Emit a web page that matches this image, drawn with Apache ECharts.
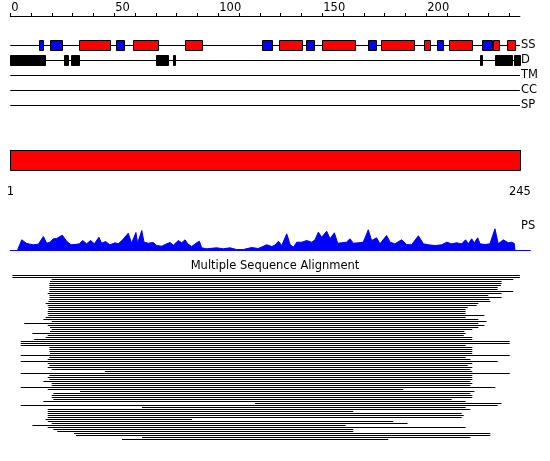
<!DOCTYPE html>
<html>
<head>
<meta charset="utf-8">
<script src="https://cdn.jsdelivr.net/npm/echarts@6.0.0/dist/echarts.min.js"></script>
<style>
  html, body { margin: 0; padding: 0; background: #fff; }
  #chart { width: 550px; height: 461px; }
</style>
</head>
<body>
<div id="chart"></div>
<script>
// sequence length, tick positions
var seqLength = 245;
var topLabels = [0, 50, 100, 150, 200];
var topTicks = [0, 10, 20, 30, 40, 50, 60, 70, 80, 90, 100, 110, 120, 130, 140, 150, 160, 170, 180, 190, 200, 210, 220, 230, 240];
var rulerTicks = [1, 245];
var trackNames = ['SS', 'D', 'TM', 'CC', 'SP'];

// secondary structure (residue ranges)
var helixStart = [33, 59, 84, 129, 150, 178, 199, 211, 232, 239];
var helixEnd   = [48, 71, 92, 140, 166, 194, 202, 222, 235, 243];
var strandStart = [14, 19, 51, 121, 142, 172, 205, 227];
var strandEnd   = [16, 25, 55, 126, 146, 176, 208, 232];

// disorder
var disStart = [0, 26, 29, 70, 78, 226, 233, 242];
var disEnd   = [17, 28, 33, 76, 79, 227, 241, 245];

// PS profile
var psPos = [3.4, 5.5, 7.9, 11.1, 13.5, 15.9, 17.5, 19.1, 20.7, 22.3,
  25.0, 27.1, 29.2, 31.1, 33.2, 34.8, 36.7, 38.6, 40.4, 42.6,
  43.9, 45.8, 47.9, 50.3, 51.9, 54.0, 56.7, 58.3, 60.4, 61.2,
  63.2, 64.3, 66.4, 68.8, 70.4, 72.8, 75.2, 76.8, 78.4, 80.8,
  82.4, 84.0, 85.3, 87.2, 89.6, 90.9, 92.0, 94.4, 99.2, 102.4,
  105.6, 108.8, 112.0, 116.0, 119.2, 123.3, 125.7, 127.3, 128.9, 130.5,
  132.9, 134.5, 136.1, 137.7, 140.1, 142.5, 144.9, 146.5, 148.1, 149.7,
  152.1, 153.7, 155.8, 157.4, 159.3, 161.6, 163.3, 164.9, 167.3, 169.7,
  172.1, 173.7, 176.1, 177.7, 180.9, 182.6, 184.9, 188.1, 190.6, 192.9,
  196.2, 198.6, 201.0, 204.2, 207.4, 209.8, 212.2, 214.6, 217.0, 218.9,
  220.2, 221.8, 223.1, 224.7, 225.8, 228.2, 230.6, 233.0, 234.6, 237.0,
  239.4, 241.0, 242.3, 242.6];
var psVal = [0, 10.7, 7, 5.7, 6.3, 14, 7.3, 8.3, 11.7, 12,
  15.3, 9.3, 5.7, 6, 6.7, 10, 6.7, 10, 6.7, 13.3,
  7.3, 9, 5.7, 7.7, 6.7, 10.7, 17.3, 7.3, 18, 7.3,
  20, 8.3, 7.3, 8, 5, 4.3, 6.7, 8, 5.3, 10,
  7.7, 10.7, 6.7, 4, 7.7, 9.3, 2.7, 1.7, 2.7, 1.7,
  2.7, 1, 1, 3, 2, 5.7, 4, 5.5, 9.3, 5,
  16.7, 6, 3.3, 8.3, 8.3, 10, 8.3, 10.7, 18.3, 13.3,
  19.3, 11.7, 17.7, 7.3, 7.7, 8.3, 11.7, 7.3, 7.7, 8.3,
  20.7, 10, 12.7, 6.7, 15, 8.3, 6.7, 10.7, 6, 5.7,
  14.7, 6.7, 5.7, 5, 5.7, 8.3, 6.7, 7.7, 6.7, 10.7,
  6.7, 11.7, 7.7, 12.7, 6.7, 6, 6.7, 21.7, 6.7, 10.7,
  7.7, 8.3, 7, 0];

// alignment rows: first and last aligned residue
var msaStart = [1, 1, 19.9, 19.1, 18.8, 18.8, 18.8, 18.8, 18.8, 18.0,
  18.8, 18.8, 18.8, 18.3, 17.0, 18.0, 18.3, 18.3, 18.0, 18.0,
  18.3, 17.0, 15.9, 19.9, 6.7, 18.0, 19.1, 19.9, 19.1, 10.6,
  18.0, 17.0, 11.5, 5.0, 5.0, 5.0, 18.8, 18.8, 18.8, 19.1,
  5.0, 18.8, 18.0, 5.0, 18.0, 18.8, 18.0, 19.9, 45.5, 5.0,
  18.8, 18.0, 18.8, 15.9, 19.9, 19.9, 5.0, 18.0, 33.5, 20.7,
  19.9, 19.9, 20.7, 15.9, 117.6, 5.0, 63.3, 18.0, 18.0, 18.0,
  18.0, 18.0, 17.0, 18.0, 19.9, 10.6, 18.0, 20.7, 22.6, 30.6,
  31.6, 63.3, 53.7];
var msaEnd = [245, 245, 241.8, 236.2, 236.2, 235.9, 234.3, 234.3, 241.8, 236.2,
  229.8, 236.2, 230.3, 230.8, 225.0, 224.2, 219.9, 218.9, 218.9, 218.9,
  227.9, 218.9, 225.0, 228.9, 225.0, 227.9, 225.0, 222.1, 218.3, 218.9,
  218.0, 222.1, 222.1, 240.1, 240.1, 218.9, 222.1, 222.1, 222.1, 222.1,
  240.1, 218.9, 221.2, 234.3, 222.1, 219.9, 222.1, 221.2, 222.1, 240.1,
  222.1, 222.1, 222.1, 221.2, 222.1, 221.2, 233.2, 188.9, 223.1, 221.2,
  222.1, 222.1, 212.2, 218.9, 236.2, 234.3, 218.9, 221.2, 164.9, 217.0,
  218.0, 217.0, 87.4, 184.1, 191.0, 161.2, 218.9, 164.9, 164.9, 230.8,
  230.8, 221.2, 181.7];

var font = 'DejaVu Sans';
var fs = 11.5;
var left = 10.3;
var pxPerRes = 2.08;

function pairs(a, b, extra) {
  return a.map(function (v, i) { return [v, b[i], extra]; });
}

function boxRender(color) {
  return function (params, api) {
    var p0 = api.coord([api.value(0), api.value(2)]);
    var p1 = api.coord([api.value(1), api.value(2)]);
    return {
      type: 'rect',
      shape: {
        x: Math.round(p0[0]) + 0.5,
        y: Math.round(p0[1] - 5.5) + 0.5,
        width: Math.max(1, Math.round(p1[0] - p0[0])),
        height: 10
      },
      style: { fill: color, stroke: '#000', lineWidth: 1 }
    };
  };
}

var hiddenX = function (grid, max) {
  return { gridIndex: grid, type: 'value', min: 0, max: max, show: false };
};

var chart = echarts.init(document.getElementById('chart'), null, { renderer: 'canvas' });
chart.setOption({
  animation: false,
  backgroundColor: '#fff',
  title: [
    { text: 'Multiple Sequence Alignment', left: 'center', top: 260, padding: 0,
      textStyle: { fontFamily: font, fontSize: fs, fontWeight: 'normal', color: '#000' } },
    { text: 'PS', left: 521, top: 220, padding: 0,
      textStyle: { fontFamily: font, fontSize: fs, fontWeight: 'normal', color: '#000' } }
  ],
  grid: [
    // 0: top ruler
    { left: left, width: seqLength * pxPerRes, top: 15, height: 1, outerBoundsMode: 'none' },
    // 1: feature tracks
    { left: left, width: seqLength * pxPerRes, top: 38, height: 75, outerBoundsMode: 'none' },
    // 2: sequence bar + bottom ruler
    { left: left, width: seqLength * pxPerRes, top: 150, height: 31, outerBoundsMode: 'none' },
    // 3: PS profile
    { left: left, width: 250 * pxPerRes, top: 228.5, height: 22, outerBoundsMode: 'none' },
    // 4: alignment
    { left: left, width: seqLength * pxPerRes, top: 275, height: 166, outerBoundsMode: 'none' }
  ],
  xAxis: [
    {
      gridIndex: 0, type: 'value', position: 'top', min: 0, max: seqLength,
      axisLine: { show: true, lineStyle: { color: '#000', width: 1 } },
      axisTick: { show: true, customValues: topTicks, length: 3, lineStyle: { color: '#000' } },
      axisLabel: {
        show: true, customValues: topLabels, align: 'left', margin: 1, padding: [0, 0, 0, 1],
        fontFamily: font, fontSize: fs, color: '#000'
      },
      splitLine: { show: false }
    },
    hiddenX(1, seqLength),
    {
      gridIndex: 2, type: 'value', position: 'bottom', min: 1, max: seqLength,
      axisLine: { show: true, lineStyle: { color: '#000', width: 1 } },
      axisTick: { show: true, customValues: rulerTicks, length: 4, lineStyle: { color: '#000' } },
      axisLabel: {
        show: true, customValues: rulerTicks, margin: 5,
        fontFamily: font, fontSize: fs, color: '#000'
      },
      splitLine: { show: false }
    },
    {
      gridIndex: 3, type: 'value', min: 0, max: 250,
      axisLine: { show: true, lineStyle: { color: '#0000ff', width: 1 } },
      axisTick: { show: false }, axisLabel: { show: false }, splitLine: { show: false }
    },
    hiddenX(4, seqLength)
  ],
  yAxis: [
    { gridIndex: 0, type: 'value', show: false },
    {
      gridIndex: 1, type: 'category', data: trackNames, inverse: true, position: 'right',
      axisLine: { show: false }, axisTick: { show: false }, splitLine: { show: false },
      axisLabel: { interval: 0, margin: 1, fontFamily: font, fontSize: fs, color: '#000' }
    },
    { gridIndex: 2, type: 'value', min: 0, max: 31, inverse: true, show: false },
    { gridIndex: 3, type: 'value', min: 0, max: 22, show: false },
    { gridIndex: 4, type: 'value', min: 0, max: msaStart.length, inverse: true, show: false }
  ],
  series: [
    {
      // track base lines
      type: 'custom', xAxisIndex: 1, yAxisIndex: 1,
      data: trackNames.map(function (n, i) { return [0, seqLength, i]; }),
      encode: { x: [0, 1], y: 2 },
      renderItem: function (params, api) {
        var p0 = api.coord([api.value(0), api.value(2)]);
        var p1 = api.coord([api.value(1), api.value(2)]);
        var y = Math.floor(p0[1]) + 0.5;
        return {
          type: 'line',
          shape: { x1: p0[0], y1: y, x2: p1[0], y2: y },
          style: { stroke: '#000', lineWidth: 1 }
        };
      },
      z: 1
    },
    {
      name: 'helix', type: 'custom', xAxisIndex: 1, yAxisIndex: 1,
      data: pairs(helixStart, helixEnd, 0), encode: { x: [0, 1], y: 2 },
      renderItem: boxRender('#ff0000'), z: 2
    },
    {
      name: 'strand', type: 'custom', xAxisIndex: 1, yAxisIndex: 1,
      data: pairs(strandStart, strandEnd, 0), encode: { x: [0, 1], y: 2 },
      renderItem: boxRender('#0000ff'), z: 2
    },
    {
      name: 'disorder', type: 'custom', xAxisIndex: 1, yAxisIndex: 1,
      data: pairs(disStart, disEnd, 1), encode: { x: [0, 1], y: 2 },
      renderItem: boxRender('#000000'), z: 2
    },
    {
      // whole sequence bar
      type: 'custom', xAxisIndex: 2, yAxisIndex: 2,
      data: [[1, seqLength]], encode: { x: [0, 1] },
      renderItem: function (params, api) {
        var p0 = api.coord([api.value(0), 0]);
        var p1 = api.coord([api.value(1), 20]);
        return {
          type: 'rect',
          shape: { x: Math.round(p0[0]) + 0.5, y: Math.round(p0[1]) + 0.5,
                   width: Math.round(p1[0] - p0[0]), height: Math.round(p1[1] - p0[1]) },
          style: { fill: '#ff0000', stroke: '#000', lineWidth: 1 }
        };
      }
    },
    {
      name: 'PS', type: 'line', xAxisIndex: 3, yAxisIndex: 3,
      data: psPos.map(function (x, i) { return [x, psVal[i]]; }),
      showSymbol: false, symbol: 'none',
      lineStyle: { color: '#0000ff', width: 1 },
      areaStyle: { color: '#0000ff', opacity: 1 },
      z: 3
    },
    {
      name: 'MSA', type: 'custom', xAxisIndex: 4, yAxisIndex: 4,
      data: msaStart.map(function (s, i) { return [s, msaEnd[i], i + 0.5]; }),
      encode: { x: [0, 1], y: 2 },
      renderItem: function (params, api) {
        var p0 = api.coord([api.value(0), api.value(2)]);
        var p1 = api.coord([api.value(1), api.value(2)]);
        return {
          type: 'rect',
          shape: { x: p0[0], y: Math.round(p0[1] - 1), width: p1[0] - p0[0], height: 1 },
          style: { fill: '#000' }
        };
      }
    }
  ]
});
</script>
</body>
</html>
